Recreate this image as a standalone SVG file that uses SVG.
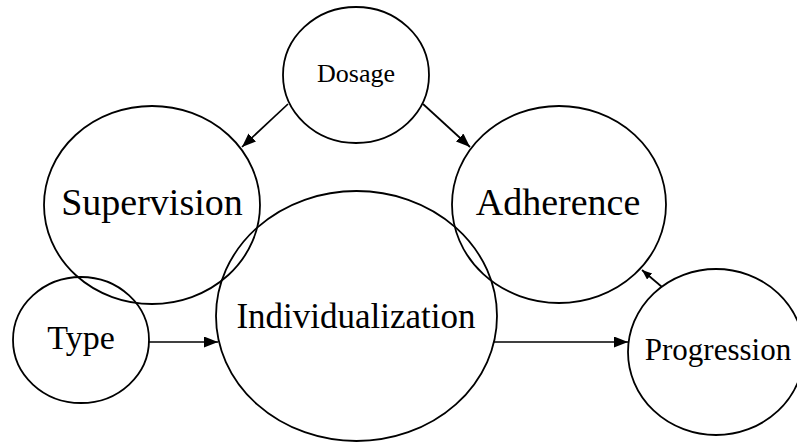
<svg xmlns="http://www.w3.org/2000/svg" width="797" height="442" viewBox="0 0 797 442">
<style>
.node ellipse{fill:none;stroke:#000;stroke-width:1.8}
.node text{font-family:"Liberation Serif","Times New Roman",serif;fill:#000;text-anchor:middle}
.edge{stroke:#000;stroke-width:1.7;fill:none}
</style>
<defs>
<marker id="arr" markerUnits="userSpaceOnUse" markerWidth="16" markerHeight="12" refX="14" refY="5.5" orient="auto">
<path d="M0,0 L14,5.5 L0,11 z" fill="#000"/>
</marker>
<marker id="arrs" markerUnits="userSpaceOnUse" markerWidth="12" markerHeight="10" refX="10" refY="4" orient="auto">
<path d="M0,0 L10,4 L0,8 z" fill="#000"/>
</marker>
</defs>
<rect width="797" height="442" fill="#fff"/>
<g id="connectors">
<line class="edge" x1="288" y1="104" x2="242" y2="147" marker-end="url(#arr)"/>
<line class="edge" x1="423" y1="104" x2="470" y2="147" marker-end="url(#arr)"/>
<line class="edge" x1="149" y1="342" x2="218" y2="342" marker-end="url(#arr)"/>
<line class="edge" x1="494" y1="342" x2="628" y2="342" marker-end="url(#arr)"/>
<line class="edge" x1="662" y1="287" x2="642" y2="270" marker-end="url(#arrs)"/>
</g>
<g id="dosage" class="node">
<ellipse cx="356" cy="75" rx="73" ry="68"/>
<text x="356" y="82" font-size="26">Dosage</text>
</g>
<g id="supervision" class="node">
<ellipse cx="152" cy="205" rx="108" ry="99"/>
<text x="152" y="215" font-size="38">Supervision</text>
</g>
<g id="adherence" class="node">
<ellipse cx="559" cy="204.5" rx="107" ry="98.5"/>
<text x="558" y="215" font-size="38">Adherence</text>
</g>
<g id="type" class="node">
<ellipse cx="81" cy="340" rx="68" ry="63"/>
<text x="81" y="349" font-size="34">Type</text>
</g>
<g id="individualization" class="node">
<ellipse cx="356.5" cy="316" rx="140.5" ry="125"/>
<text x="356" y="328" font-size="35">Individualization</text>
</g>
<g id="progression" class="node">
<ellipse cx="716" cy="352" rx="88" ry="83"/>
<text x="718" y="360" font-size="31">Progression</text>
</g>
</svg>
